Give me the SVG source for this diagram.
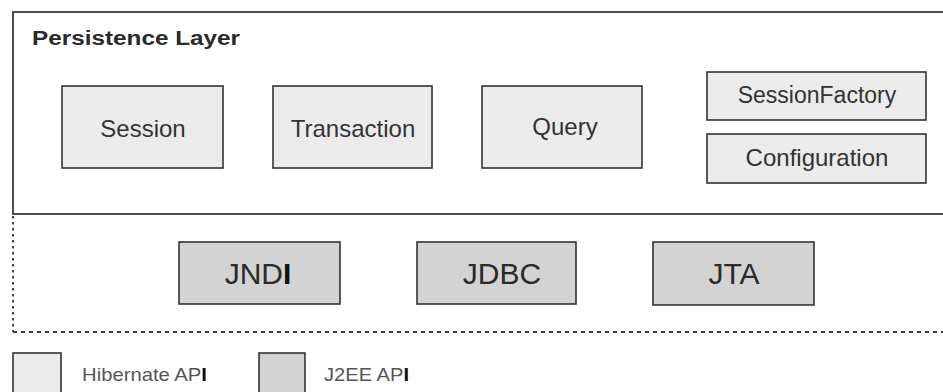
<svg xmlns="http://www.w3.org/2000/svg" width="943" height="392" viewBox="0 0 943 392">
  <style>
    .layer { fill: #ffffff; stroke: #3a3a3a; stroke-width: 1.8; }
    .hib { fill: #ebebeb; stroke: #333333; stroke-width: 1.6; }
    .j2ee { fill: #d3d3d3; stroke: #333333; stroke-width: 1.6; }
    .lbl { font-family: "Liberation Sans", Arial, sans-serif; fill: #333333; text-anchor: middle; }
    .big { font-size: 30px; fill: #2a2a2a; }
    .mid { font-size: 24px; }
    .title { font-family: "Liberation Sans", Arial, sans-serif; font-weight: bold; font-size: 20px; fill: #2a2a2a; }
    .legend { font-family: "Liberation Sans", Arial, sans-serif; font-size: 19px; fill: #555555; }
    .bar { font-weight: bold; fill: #111111; }
    .sep { fill: none; stroke: #444444; stroke-width: 2; }
  </style>

  <rect width="943" height="392" fill="#ffffff"/>

  <!-- persistence layer frame, open on the right -->
  <g id="persistence-layer">
    <rect class="layer" x="13" y="12" width="960" height="202"/>
    <text class="title" x="32" y="45" textLength="208" lengthAdjust="spacingAndGlyphs">Persistence Layer</text>
  </g>

  <!-- boundary of the J2EE layer -->
  <g id="boundaries">
    <line class="sep" x1="13" y1="216" x2="13" y2="332" stroke-dasharray="2.5 3.5"/>
    <line class="sep" x1="13" y1="332" x2="943" y2="332" stroke-dasharray="4 4"/>
  </g>

  <!-- Hibernate API nodes -->
  <g id="session">
    <rect class="hib" x="62" y="86" width="161" height="82"/>
    <text class="lbl mid" x="143" y="137">Session</text>
  </g>
  <g id="transaction">
    <rect class="hib" x="273" y="86" width="159" height="82"/>
    <text class="lbl mid" x="353" y="137">Transaction</text>
  </g>
  <g id="query">
    <rect class="hib" x="482" y="86" width="160" height="82"/>
    <text class="lbl mid" x="565" y="135">Query</text>
  </g>
  <g id="session-factory">
    <rect class="hib" x="707" y="72" width="219" height="48"/>
    <text class="lbl" x="817" y="103" font-size="23">SessionFactory</text>
  </g>
  <g id="configuration">
    <rect class="hib" x="707" y="134" width="219" height="49"/>
    <text class="lbl mid" x="817" y="166">Configuration</text>
  </g>

  <!-- J2EE API nodes -->
  <g id="jndi">
    <rect class="j2ee" x="179" y="242" width="161" height="62"/>
    <text class="lbl big" x="258" y="284">JND<tspan class="bar">I</tspan></text>
  </g>
  <g id="jdbc">
    <rect class="j2ee" x="417" y="242" width="159" height="62"/>
    <text class="lbl big" x="502" y="284">JDBC</text>
  </g>
  <g id="jta">
    <rect class="j2ee" x="653" y="242" width="161" height="63"/>
    <text class="lbl big" x="734" y="284">JTA</text>
  </g>

  <!-- legend -->
  <g id="legend-hibernate">
    <rect class="hib" x="13" y="353" width="48" height="50"/>
    <text class="legend" x="82" y="381" textLength="125" lengthAdjust="spacingAndGlyphs">Hibernate AP<tspan class="bar">I</tspan></text>
  </g>
  <g id="legend-j2ee">
    <rect class="j2ee" x="259" y="353" width="46" height="50"/>
    <text class="legend" x="324" y="381" textLength="85" lengthAdjust="spacingAndGlyphs">J2EE AP<tspan class="bar">I</tspan></text>
  </g>
</svg>
